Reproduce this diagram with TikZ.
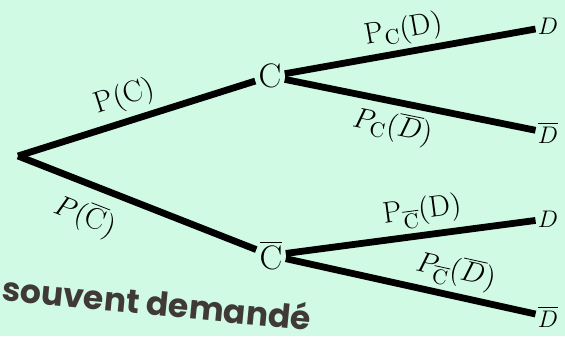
\documentclass[tikz,border=0pt]{standalone}
\usepackage{fontspec}
\newfontfamily\popfont{Poppins}
\definecolor{mint}{HTML}{D1FAE5}
\definecolor{inkGrey}{HTML}{3F3A36}
\usetikzlibrary{positioning}

\begin{document}
\begin{tikzpicture}[
    x=0.5pt, y=-0.5pt,
    branch/.style={line width=3.4pt},
    event/.style={inner sep=1.5pt, anchor=base, font=\fontsize{17}{17}\selectfont},
    leaf/.style={inner sep=1pt, anchor=base, font=\fontsize{11.5}{11.5}\selectfont},
    prob/.style={sloped, inner sep=2pt, font=\fontsize{15}{15}\selectfont},
    note/.style={rotate=-5.5, anchor=base west, text=inkGrey,
                 font=\popfont\bfseries\fontsize{16.5}{16.5}\selectfont}
  ]
    \useasboundingbox (0,0) rectangle (565,336);
    \fill[mint] (0,0) rectangle (565,336);

    % tree nodes
    \coordinate (root) at (18,156);
    \node[event] (c) at (270,88) {$\mathrm{C}$};
    \node[event] (cb) at (271,269) {$\overline{\mathrm{C}}$};
    \node[leaf] (d1) at (548,35) {$D$};
    \node[leaf] (d1b) at (548,143) {$\overline{D}$};
    \node[leaf] (d2) at (548,227) {$D$};
    \node[leaf] (d2b) at (548,327) {$\overline{D}$};

    % branches with probabilities
    \draw[branch] (root) -- node[prob, above=1pt, pos=0.48] {$\mathrm{P(C)}$} (c);
    \draw[branch] (root) -- node[prob, below=4pt, pos=0.33] {$P(\overline{\mathrm{C}})$} (cb);
    \draw[branch] (c) -- node[prob, above, pos=0.49] {$\mathrm{P_C(D)}$} (d1);
    \draw[branch] (c) -- node[prob, below=1pt, pos=0.45] {$P_{\mathrm{C}}(\overline{D})$} (d1b);
    \draw[branch] (cb) -- node[prob, above, pos=0.56] {$\mathrm{P}_{\overline{\mathrm{C}}}(\mathrm{D})$} (d2);
    \draw[branch] (cb) -- node[prob, above, pos=0.66] {$P_{\overline{\mathrm{C}}}(\overline{D})$} (d2b);

    % caption text behind, cut by the frame
    \node[note] (note1) at (-6,300) {souvent demandé};
    \node[note] (note2) at (116,364) {d};
  \end{tikzpicture}
\end{document}
